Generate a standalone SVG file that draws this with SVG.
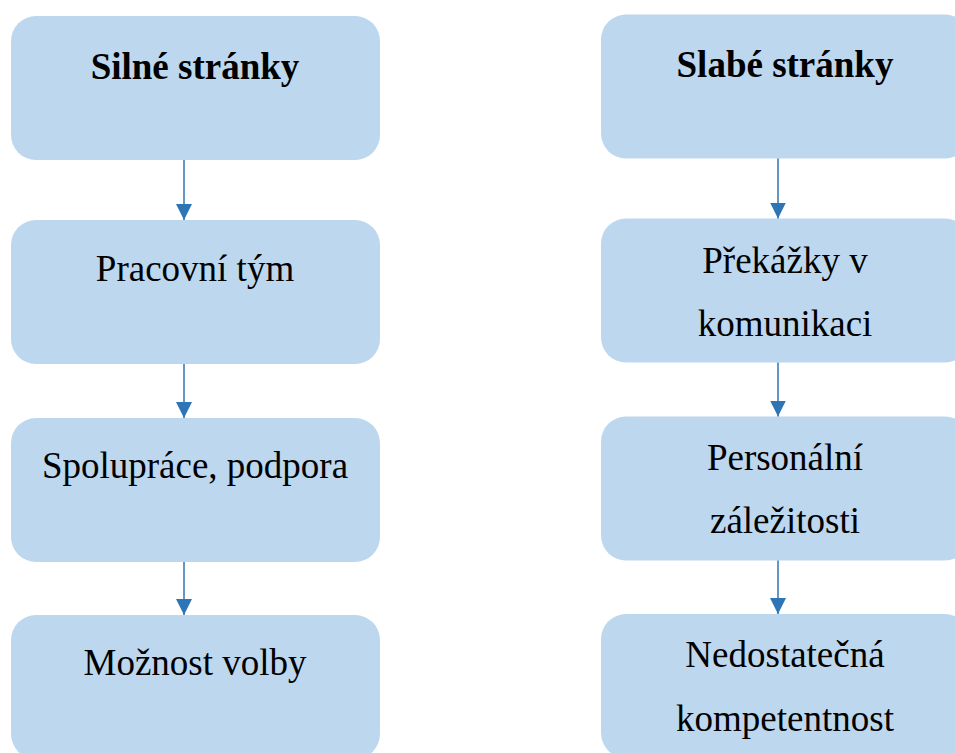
<svg xmlns="http://www.w3.org/2000/svg" width="955" height="753" viewBox="0 0 955 753">
<style>
.box{fill:#BDD7EE;}
.t{font-family:'Liberation Serif','DejaVu Serif',serif;font-size:37px;fill:#000;text-anchor:middle;}
.b{font-weight:bold;}
.c{stroke:#2E75B6;stroke-width:1.5;fill:none;}
</style>
<defs>
<marker id="ah" markerUnits="userSpaceOnUse" markerWidth="16" markerHeight="16" refX="16" refY="8" orient="auto" viewBox="0 0 16 16">
<path d="M0,0 L16,8 L0,16 Z" fill="#2E75B6"/>
</marker>
</defs>
<rect width="955" height="753" fill="#fff"/>
<g id="n1"><rect class="box" x="11" y="16" width="369" height="144" rx="25"/><text class="t b" x="195" y="79">Silné stránky</text></g>
<g id="n2"><rect class="box" x="11" y="220" width="369" height="144" rx="25"/><text class="t" x="195" y="281">Pracovní tým</text></g>
<g id="n3"><rect class="box" x="11" y="418" width="369" height="144" rx="25"/><text class="t" x="195" y="478">Spolupráce, podpora</text></g>
<g id="n4"><rect class="box" x="11" y="615" width="369" height="144" rx="25"/><text class="t" x="195" y="675">Možnost volby</text></g>
<g id="n5"><rect class="box" x="601" y="14.5" width="369" height="144" rx="25"/><text class="t b" x="785" y="77">Slabé stránky</text></g>
<g id="n6"><rect class="box" x="601" y="218.5" width="369" height="144" rx="25"/><text class="t" x="785" y="273">Překážky v</text><text class="t" x="785" y="336">komunikaci</text></g>
<g id="n7"><rect class="box" x="601" y="416.5" width="369" height="144" rx="25"/><text class="t" x="785" y="470">Personální</text><text class="t" x="785" y="533">záležitosti</text></g>
<g id="n8"><rect class="box" x="601" y="614" width="369" height="144" rx="25"/><text class="t" x="785" y="667">Nedostatečná</text><text class="t" x="785" y="731">kompetentnost</text></g>
<g id="connectors">
<line class="c" x1="184" y1="160" x2="184" y2="220" marker-end="url(#ah)"/>
<line class="c" x1="184" y1="364" x2="184" y2="418" marker-end="url(#ah)"/>
<line class="c" x1="184" y1="562" x2="184" y2="615" marker-end="url(#ah)"/>
<line class="c" x1="778" y1="158.5" x2="778" y2="218.5" marker-end="url(#ah)"/>
<line class="c" x1="778" y1="362.5" x2="778" y2="416.5" marker-end="url(#ah)"/>
<line class="c" x1="778" y1="560.5" x2="778" y2="614" marker-end="url(#ah)"/>
</g>
</svg>
